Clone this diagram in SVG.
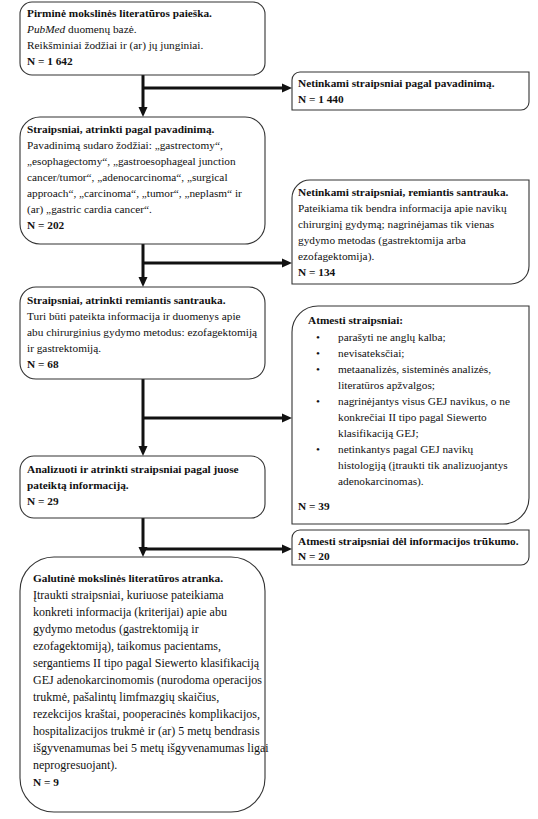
<svg xmlns="http://www.w3.org/2000/svg" width="538" height="819" viewBox="0 0 538 819">
<defs>
<marker id="ah" markerUnits="userSpaceOnUse" markerWidth="10" markerHeight="10" refX="0" refY="5" orient="auto">
<path d="M0,0.5 L10,5 L0,9.5 Z" fill="#111"/>
</marker>
<style>
.box{fill:#fff;stroke:#333;stroke-width:1.1}
text{font-family:"Liberation Serif","Times New Roman",serif;font-size:11.3px;fill:#111}
.b{font-weight:bold}
.i{font-style:italic}
.big{font-size:12px}
.c{fill:none;stroke:#111;stroke-width:3}
</style>
</defs>
<rect width="538" height="819" fill="#fff"/>
<g id="connectors">
<line class="c" x1="143" y1="75" x2="143" y2="107" marker-end="url(#ah)"/>
<line class="c" x1="143" y1="88" x2="282" y2="88" marker-end="url(#ah)"/>
<line class="c" x1="143" y1="244" x2="143" y2="277" marker-end="url(#ah)"/>
<line class="c" x1="143" y1="263" x2="282" y2="263" marker-end="url(#ah)"/>
<line class="c" x1="143" y1="379" x2="143" y2="446" marker-end="url(#ah)"/>
<line class="c" x1="143" y1="418" x2="282" y2="418" marker-end="url(#ah)"/>
<line class="c" x1="143" y1="518" x2="143" y2="547" marker-end="url(#ah)"/>
<line class="c" x1="143" y1="549" x2="282" y2="549" marker-end="url(#ah)"/>
</g>
<g id="n1">
<rect class="box" x="20" y="2" width="245" height="73" rx="12"/>
<text x="27" y="17" class="b">Pirminė mokslinės literatūros paieška.</text>
<text x="27" y="33"><tspan class="i">PubMed</tspan> duomenų bazė.</text>
<text x="27" y="49">Reikšminiai žodžiai ir (ar) jų junginiai.</text>
<text x="27" y="65" class="b">N = 1 642</text>
</g>
<g id="nA">
<path class="box" d="M292,80 A8,8 0 0 1 300,72 L529,72 L529,102 A8,8 0 0 1 521,110 L292,110 Z"/>
<text x="298" y="87" class="b">Netinkami straipsniai pagal pavadinimą.</text>
<text x="298" y="103" class="b">N = 1 440</text>
</g>
<g id="n2">
<rect class="box" x="20" y="117" width="245" height="127" rx="20"/>
<text x="27" y="133" class="b">Straipsniai, atrinkti pagal pavadinimą.</text>
<text x="27" y="149">Pavadinimą sudaro žodžiai: „gastrectomy“,</text>
<text x="27" y="165">„esophagectomy“, „gastroesophageal junction</text>
<text x="27" y="181">cancer/tumor“, „adenocarcinoma“, „surgical</text>
<text x="27" y="197">approach“, „carcinoma“, „tumor“, „neplasm“ ir</text>
<text x="27" y="213">(ar) „gastric cardia cancer“.</text>
<text x="27" y="229" class="b">N = 202</text>
</g>
<g id="nB">
<path class="box" d="M292,198 A18,18 0 0 1 310,180 L529,180 L529,266 A18,18 0 0 1 511,284 L292,284 Z"/>
<text x="298" y="196" class="b">Netinkami straipsniai, remiantis santrauka.</text>
<text x="298" y="212">Pateikiama tik bendra informacija apie navikų</text>
<text x="298" y="228">chirurginį gydymą; nagrinėjamas tik vienas</text>
<text x="298" y="244">gydymo metodas (gastrektomija arba</text>
<text x="298" y="260">ezofagektomija).</text>
<text x="298" y="276" class="b">N = 134</text>
</g>
<g id="n3">
<rect class="box" x="20" y="287" width="245" height="92" rx="16"/>
<text x="27" y="304" class="b">Straipsniai, atrinkti remiantis santrauka.</text>
<text x="27" y="320">Turi būti pateikta informacija ir duomenys apie</text>
<text x="27" y="336">abu chirurginius gydymo metodus: ezofagektomiją</text>
<text x="27" y="352">ir gastrektomiją.</text>
<text x="27" y="368" class="b">N = 68</text>
</g>
<g id="nC">
<path class="box" d="M292,332 A26,26 0 0 1 318,306 L529,306 L529,498 A26,26 0 0 1 503,524 L292,524 Z"/>
<text x="308" y="324" class="b">Atmesti straipsniai:</text>
<text x="316" y="341">•</text><text x="338" y="341">parašyti ne anglų kalba;</text>
<text x="316" y="357">•</text><text x="338" y="357">nevisateksčiai;</text>
<text x="316" y="373">•</text><text x="338" y="373">metaanalizės, sisteminės analizės,</text>
<text x="338" y="389">literatūros apžvalgos;</text>
<text x="316" y="405">•</text><text x="338" y="405">nagrinėjantys visus GEJ navikus, o ne</text>
<text x="338" y="421">konkrečiai II tipo pagal Siewerto</text>
<text x="338" y="437">klasifikaciją GEJ;</text>
<text x="316" y="453">•</text><text x="338" y="453">netinkantys pagal GEJ navikų</text>
<text x="338" y="469">histologiją (įtraukti tik analizuojantys</text>
<text x="338" y="485">adenokarcinomas).</text>
<text x="298" y="510" class="b">N = 39</text>
</g>
<g id="n4">
<rect class="box" x="20" y="456" width="245" height="62" rx="14"/>
<text x="27" y="473" class="b">Analizuoti ir atrinkti straipsniai pagal juose</text>
<text x="27" y="489" class="b">pateiktą informaciją.</text>
<text x="27" y="505" class="b">N = 29</text>
</g>
<g id="nD">
<path class="box" d="M292,538 A8,8 0 0 1 300,530 L529,530 L529,557 A8,8 0 0 1 521,565 L292,565 Z"/>
<text x="298" y="545" class="b">Atmesti straipsniai dėl informacijos trūkumo.</text>
<text x="298" y="560" class="b">N = 20</text>
</g>
<g id="n5">
<rect class="box" x="20" y="557" width="245" height="255" rx="34"/>
<text x="33" y="582" class="b">Galutinė mokslinės literatūros atranka.</text>
<text x="33" y="599" class="big">Įtraukti straipsniai, kuriuose pateikiama</text>
<text x="33" y="616" class="big">konkreti informacija (kriterijai) apie abu</text>
<text x="33" y="633" class="big">gydymo metodus (gastrektomiją ir</text>
<text x="33" y="650" class="big">ezofagektomiją), taikomus pacientams,</text>
<text x="33" y="667" class="big">sergantiems II tipo pagal Siewerto klasifikaciją</text>
<text x="33" y="684" class="big">GEJ adenokarcinomomis (nurodoma operacijos</text>
<text x="33" y="701" class="big">trukmė, pašalintų limfmazgių skaičius,</text>
<text x="33" y="718" class="big">rezekcijos kraštai, pooperacinės komplikacijos,</text>
<text x="33" y="735" class="big">hospitalizacijos trukmė ir (ar) 5 metų bendrasis</text>
<text x="33" y="752" class="big">išgyvenamumas bei 5 metų išgyvenamumas ligai</text>
<text x="33" y="769" class="big">neprogresuojant).</text>
<text x="33" y="786" class="b">N = 9</text>
</g>
</svg>
